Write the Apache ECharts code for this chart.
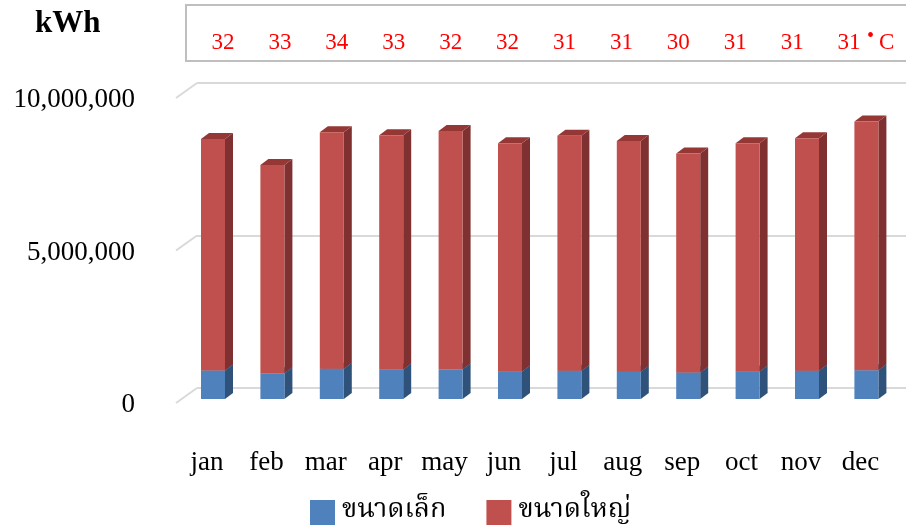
<!DOCTYPE html>
<html>
<head>
<meta charset="utf-8">
<script src="https://cdn.jsdelivr.net/npm/echarts@6/dist/echarts.min.js"></script>
<style>
html,body{margin:0;padding:0;background:#fff;}
#c{width:906px;height:526px;}
</style>
</head>
<body>
<div id="c"></div>
<script>
const months = ['jan','feb','mar','apr','may','jun','jul','aug','sep','oct','nov','dec'];
const smallKWh = [930000, 840000, 990000, 960000, 970000, 900000, 920000, 890000, 870000, 900000, 920000, 940000];
const largeKWh = [7570000, 6810000, 7730000, 7660000, 7790000, 7460000, 7680000, 7540000, 7150000, 7460000, 7600000, 8130000];
const temps = ['32','33','34','33','32','32','31','31','30','31','31','31'];
const yTicks = [0, 5000000, 10000000];
const seriesNames = ['ขนาดเล็ก', 'ขนาดใหญ่'];

const SERIF = "'Liberation Serif', 'Times New Roman', serif";
const THAI = "'Noto Serif Thai', 'Noto Sans Thai', 'Tlwg Typo', 'Garuda', 'Liberation Serif', serif";

const DX = 8, DY = 6;
function bar3d(front, side, top) {
  return function (params, api) {
    const i = api.value(0), base = api.value(1), v = api.value(2);
    const bw = api.size([1, 0])[0] * 0.404;
    const pb = api.coord([i, base]);
    const pt = api.coord([i, base + v]);
    const x0 = pb[0] - bw / 2, x1 = pb[0] + bw / 2;
    const yb = pb[1], yt = pt[1];
    return {
      type: 'group',
      children: [
        { type: 'polygon', shape: { points: [[x1, yb], [x1 + DX, yb - DY], [x1 + DX, yt - DY], [x1, yt]] }, style: { fill: side } },
        { type: 'polygon', shape: { points: [[x0, yt], [x1, yt], [x1 + DX, yt - DY], [x0 + DX, yt - DY]] }, style: { fill: top } },
        { type: 'rect', shape: { x: x0, y: yt, width: bw, height: yb - yt }, style: { fill: front } }
      ]
    };
  };
}

const chart = echarts.init(document.getElementById('c'), null, { renderer: 'canvas' });
chart.setOption({
  animation: false,
  backgroundColor: '#fff',
  grid: [
    { left: 197, right: 0, top: 83, bottom: 138 },        // back wall
    { left: 183.3, right: 9.9, top: 93, bottom: 127 },     // bars
    { left: 143, width: 10, top: 100, bottom: 121 },       // y labels
    { left: 194.5, right: 28.5, top: 30, height: 1 }       // temps
  ],
  xAxis: [
    { gridIndex: 0, type: 'value', min: 0, max: 1, show: false },
    { gridIndex: 1, type: 'category', data: months, axisLine: { show: false }, axisTick: { show: false },
      axisLabel: { interval: 0, fontFamily: SERIF, fontSize: 27, color: '#000', margin: 50, padding: [0, 12, 0, 0] } },
    { gridIndex: 2, type: 'value', show: false },
    { gridIndex: 3, type: 'category', data: temps, axisLine: { show: false }, axisTick: { show: false },
      axisLabel: { interval: 0, fontFamily: SERIF, fontSize: 23, color: '#ff0000', margin: 12, verticalAlign: 'middle' } }
  ],
  yAxis: [
    { gridIndex: 0, type: 'value', min: 0, max: 10000000, interval: 5000000,
      axisLabel: { show: false }, axisLine: { show: false }, axisTick: { show: false },
      splitLine: { show: true, lineStyle: { color: '#d9d9d9', width: 2 } } },
    { gridIndex: 1, type: 'value', min: 0, max: 10000000, show: false },
    { gridIndex: 2, type: 'value', min: 0, max: 10000000, interval: 5000000,
      axisLine: { show: false }, axisTick: { show: false }, splitLine: { show: false },
      axisLabel: { fontFamily: SERIF, fontSize: 27, color: '#000', margin: 8,
        formatter: v => v.toLocaleString('en-US') } },
    { gridIndex: 3, type: 'value', show: false }
  ],
  legend: {
    left: 305, top: 494,
    itemWidth: 25, itemHeight: 25, itemGap: 40,
    icon: 'rect',
    data: seriesNames,
    textStyle: { fontFamily: THAI, fontSize: 27, color: '#000', padding: [0, 0, 0, 2] }
  },
  graphic: [
    { type: 'text', left: 35, top: 8, style: { text: 'kWh', font: "bold 31px 'Liberation Serif', serif", fill: '#000' } },
    { type: 'rect', shape: { x: 186, y: 5, width: 740, height: 56 }, style: { fill: 'none', stroke: '#bfbfbf', lineWidth: 2 } },
    { type: 'text', x: 867, y: 27, style: { text: '•', font: "20px 'Liberation Serif', serif", fill: '#ff0000' } },
    { type: 'text', x: 879, y: 31, style: { text: 'C', font: "23px 'Liberation Serif', serif", fill: '#ff0000' } }
  ],
  series: [
    {
      type: 'custom', name: 'grid-diag', xAxisIndex: 0, yAxisIndex: 0, silent: true,
      data: yTicks.map(v => [0, v]),
      renderItem: function (params, api) {
        const p = api.coord([0, api.value(1)]);
        return { type: 'line', shape: { x1: p[0], y1: p[1], x2: p[0] - 21, y2: p[1] + 15 }, style: { stroke: '#d9d9d9', lineWidth: 2 } };
      }
    },
    {
      type: 'custom', name: seriesNames[0], xAxisIndex: 1, yAxisIndex: 1,
      itemStyle: { color: '#4f81bd' },
      data: smallKWh.map((v, i) => [i, 0, v]),
      renderItem: bar3d('#4f81bd', '#2f527a', '#3d6699')
    },
    {
      type: 'custom', name: seriesNames[1], xAxisIndex: 1, yAxisIndex: 1,
      itemStyle: { color: '#c0504d' },
      data: largeKWh.map((v, i) => [i, smallKWh[i], v]),
      renderItem: bar3d('#c0504d', '#7f3131', '#953735')
    }
  ]
});
</script>
</body>
</html>
